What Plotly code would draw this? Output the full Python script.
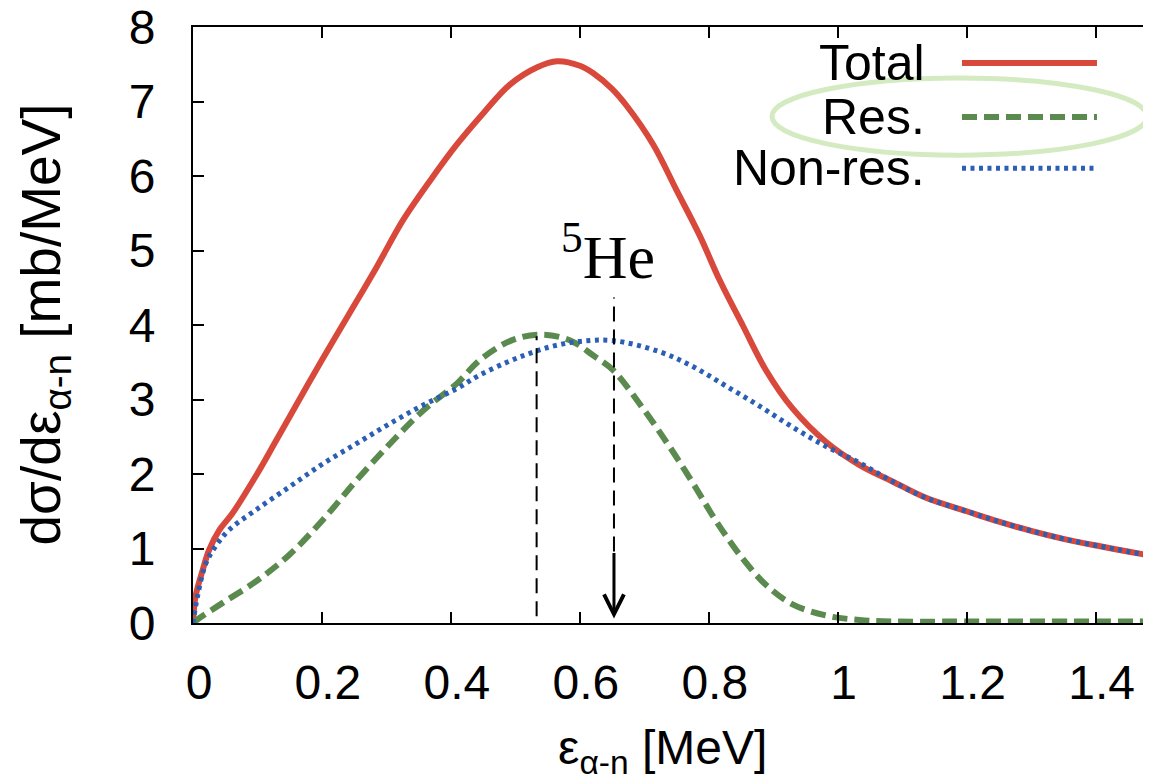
import plotly.graph_objects as go

# ---- data ----
total_x = [0.000, 0.004, 0.015, 0.025, 0.041, 0.061, 0.098, 0.129, 0.165, 0.200, 0.243, 0.285,
           0.326, 0.368, 0.409, 0.451, 0.492, 0.534, 0.565, 0.600, 0.621, 0.650, 0.672, 0.714,
           0.750, 0.786, 0.817, 0.853, 0.889, 0.930, 0.982, 1.034, 1.085, 1.137, 1.200, 1.250,
           1.303, 1.350, 1.407, 1.450, 1.500]
total_y = [0.00, 0.36, 0.71, 0.98, 1.25, 1.47, 1.98, 2.45, 3.00, 3.53, 4.16, 4.78,
           5.41, 5.94, 6.42, 6.85, 7.23, 7.46, 7.54, 7.48, 7.38, 7.17, 6.95, 6.42,
           5.81, 5.20, 4.60, 3.99, 3.39, 2.88, 2.43, 2.12, 1.90, 1.68, 1.50, 1.36,
           1.23, 1.13, 1.03, 0.96, 0.88]

res_x = [0.000, 0.009, 0.046, 0.098, 0.150, 0.202, 0.254, 0.306, 0.358, 0.410, 0.445, 0.496,
         0.543, 0.586, 0.621, 0.652, 0.698, 0.739, 0.776, 0.812, 0.853, 0.889, 0.930, 0.982,
         1.034, 1.085, 1.200, 1.500]
res_y = [0.00, 0.06, 0.27, 0.56, 0.92, 1.39, 1.92, 2.41, 2.86, 3.22, 3.53, 3.80,
         3.87, 3.79, 3.59, 3.39, 2.88, 2.37, 1.87, 1.36, 0.86, 0.51, 0.25, 0.10,
         0.04, 0.02, 0.02, 0.02]

nonres_x = [0.000, 0.007, 0.020, 0.035, 0.056, 0.098, 0.150, 0.202, 0.254, 0.306, 0.358,
            0.410, 0.445, 0.487, 0.5225, 0.560, 0.600, 0.652, 0.724, 0.776, 0.827, 0.879,
            0.930, 0.982, 1.034, 1.085, 1.137, 1.200, 1.250, 1.303, 1.350, 1.407, 1.450, 1.500]
nonres_y = [0.00, 0.36, 0.80, 1.03, 1.25, 1.52, 1.83, 2.14, 2.41, 2.68, 2.93,
            3.15, 3.33, 3.50, 3.62, 3.72, 3.78, 3.79, 3.64, 3.44, 3.18, 2.91,
            2.63, 2.37, 2.15, 1.90, 1.68, 1.50, 1.36, 1.23, 1.13, 1.03, 0.96, 0.88]

x_ticks = [0, 0.2, 0.4, 0.6, 0.8, 1.0, 1.2, 1.4]
x_ticktext = ["0", "0.2", "0.4", "0.6", "0.8", "1", "1.2", "1.4"]
y_ticks = [0, 1, 2, 3, 4, 5, 6, 7, 8]
y_ticktext = ["0", "1", "2", "3", "4", "5", "6", "7", "8"]

series_names = ["Total", "Res.", "Non-res."]

# reference markers (peak of Res. and 5He resonance energy)
res_peak_x = 0.533
res_peak_top = 3.85
he5_x = 0.653
he5_line_top = 4.37
he5_arrow_start = 0.96
he5_arrow_end = 0.06

RED = "#d8483b"
GREEN = "#5b8a4f"
BLUE = "#2b5fb4"
FONT = "Liberation Sans"

fig = go.Figure()
fig.add_trace(go.Scatter(x=total_x, y=total_y, mode="lines", name=series_names[0],
                         line=dict(color=RED, width=6, shape="spline", smoothing=1.0),
                         showlegend=False))
fig.add_trace(go.Scatter(x=res_x, y=res_y, mode="lines", name=series_names[1],
                         line=dict(color=GREEN, width=6, dash="15px,7px", shape="spline", smoothing=1.0),
                         showlegend=False))
fig.add_trace(go.Scatter(x=nonres_x, y=nonres_y, mode="lines", name=series_names[2],
                         line=dict(color=BLUE, width=5, dash="4px,4.5px", shape="spline", smoothing=1.0),
                         showlegend=False))

shapes = []
# vertical dashed guide lines
shapes.append(dict(type="line", xref="x", yref="y", x0=res_peak_x, x1=res_peak_x,
                   y0=0.09, y1=res_peak_top, line=dict(color="black", width=2, dash="15px,8px")))
shapes.append(dict(type="line", xref="x", yref="y", x0=he5_x, x1=he5_x,
                   y0=he5_arrow_start, y1=he5_line_top, line=dict(color="black", width=2, dash="15px,8px")))

# manual legend (gnuplot style: text then sample)
leg_y = [0.9396, 0.849, 0.763]
leg_styles = [dict(color=RED, width=6), dict(color=GREEN, width=6, dash="15px,7px"),
              dict(color=BLUE, width=5, dash="4px,4.5px")]
for yy, st in zip(leg_y, leg_styles):
    shapes.append(dict(type="line", xref="paper", yref="paper", x0=0.8027, x1=0.9436,
                       y0=yy, y1=yy, line=st))
# highlight ellipse around "Res."
shapes.append(dict(type="circle", xref="paper", yref="paper", x0=0.6044, x1=0.9958,
                   y0=0.785, y1=0.9144, line=dict(color="#d4ebc2", width=5), layer="above"))

annotations = []
for name, yy in zip(series_names, leg_y):
    annotations.append(dict(text=name, xref="paper", yref="paper", x=0.766, y=yy,
                            xanchor="right", yanchor="middle", showarrow=False,
                            font=dict(family=FONT, size=50, color="black")))
# 5He label
annotations.append(dict(text="<sup>5</sup>He", xref="x", yref="y", x=0.6435, y=4.98,
                        xanchor="center", yanchor="middle", showarrow=False,
                        font=dict(family="Liberation Serif", size=62, color="black")))
# arrow
annotations.append(dict(x=he5_x, y=he5_arrow_end, ax=he5_x, ay=he5_arrow_start,
                        xref="x", yref="y", axref="x", ayref="y", text="",
                        showarrow=True, arrowhead=5, arrowsize=1.3, arrowwidth=3,
                        arrowcolor="black"))
# axis titles
annotations.append(dict(text="ε<sub>α-n</sub> [MeV]", xref="paper", yref="paper",
                        x=0.49, y=-0.215, xanchor="center", yanchor="middle", showarrow=False,
                        font=dict(family=FONT, size=48, color="black")))
annotations.append(dict(text="dσ/dε<sub>α-n</sub> [mb/MeV]", xref="paper", yref="paper",
                        x=-0.155, y=0.50, xanchor="center", yanchor="middle", showarrow=False,
                        textangle=-90, font=dict(family=FONT, size=55, color="black")))

# the page body adds an 8px offset; size the figure so the plot area lands where the reference has it
fig.update_layout(
    width=1143, height=774,
    margin=dict(l=185, r=0, t=19, b=159, autoexpand=False),
    paper_bgcolor="white", plot_bgcolor="white",
    shapes=shapes, annotations=annotations,
    showlegend=False,
    xaxis=dict(range=[0, 1.486], tickvals=x_ticks, ticktext=x_ticktext, automargin=False,
               showline=True, linecolor="black", linewidth=2, mirror="ticks",
               ticks="inside", ticklen=11, tickwidth=2, tickcolor="black",
               showgrid=False, zeroline=False, ticklabelstandoff=16, ticklabelshift=6,
               ticklabeloverflow="allow",
               tickfont=dict(family=FONT, size=48, color="black")),
    yaxis=dict(range=[0, 8], tickvals=y_ticks, ticktext=y_ticktext, automargin=False,
               showline=True, linecolor="black", linewidth=2,
               ticks="inside", ticklen=11, tickwidth=2, tickcolor="black",
               showgrid=False, zeroline=False, ticklabelstandoff=26,
               ticklabeloverflow="allow",
               tickfont=dict(family=FONT, size=48, color="black")),
)

fig.write_html("out.html")
